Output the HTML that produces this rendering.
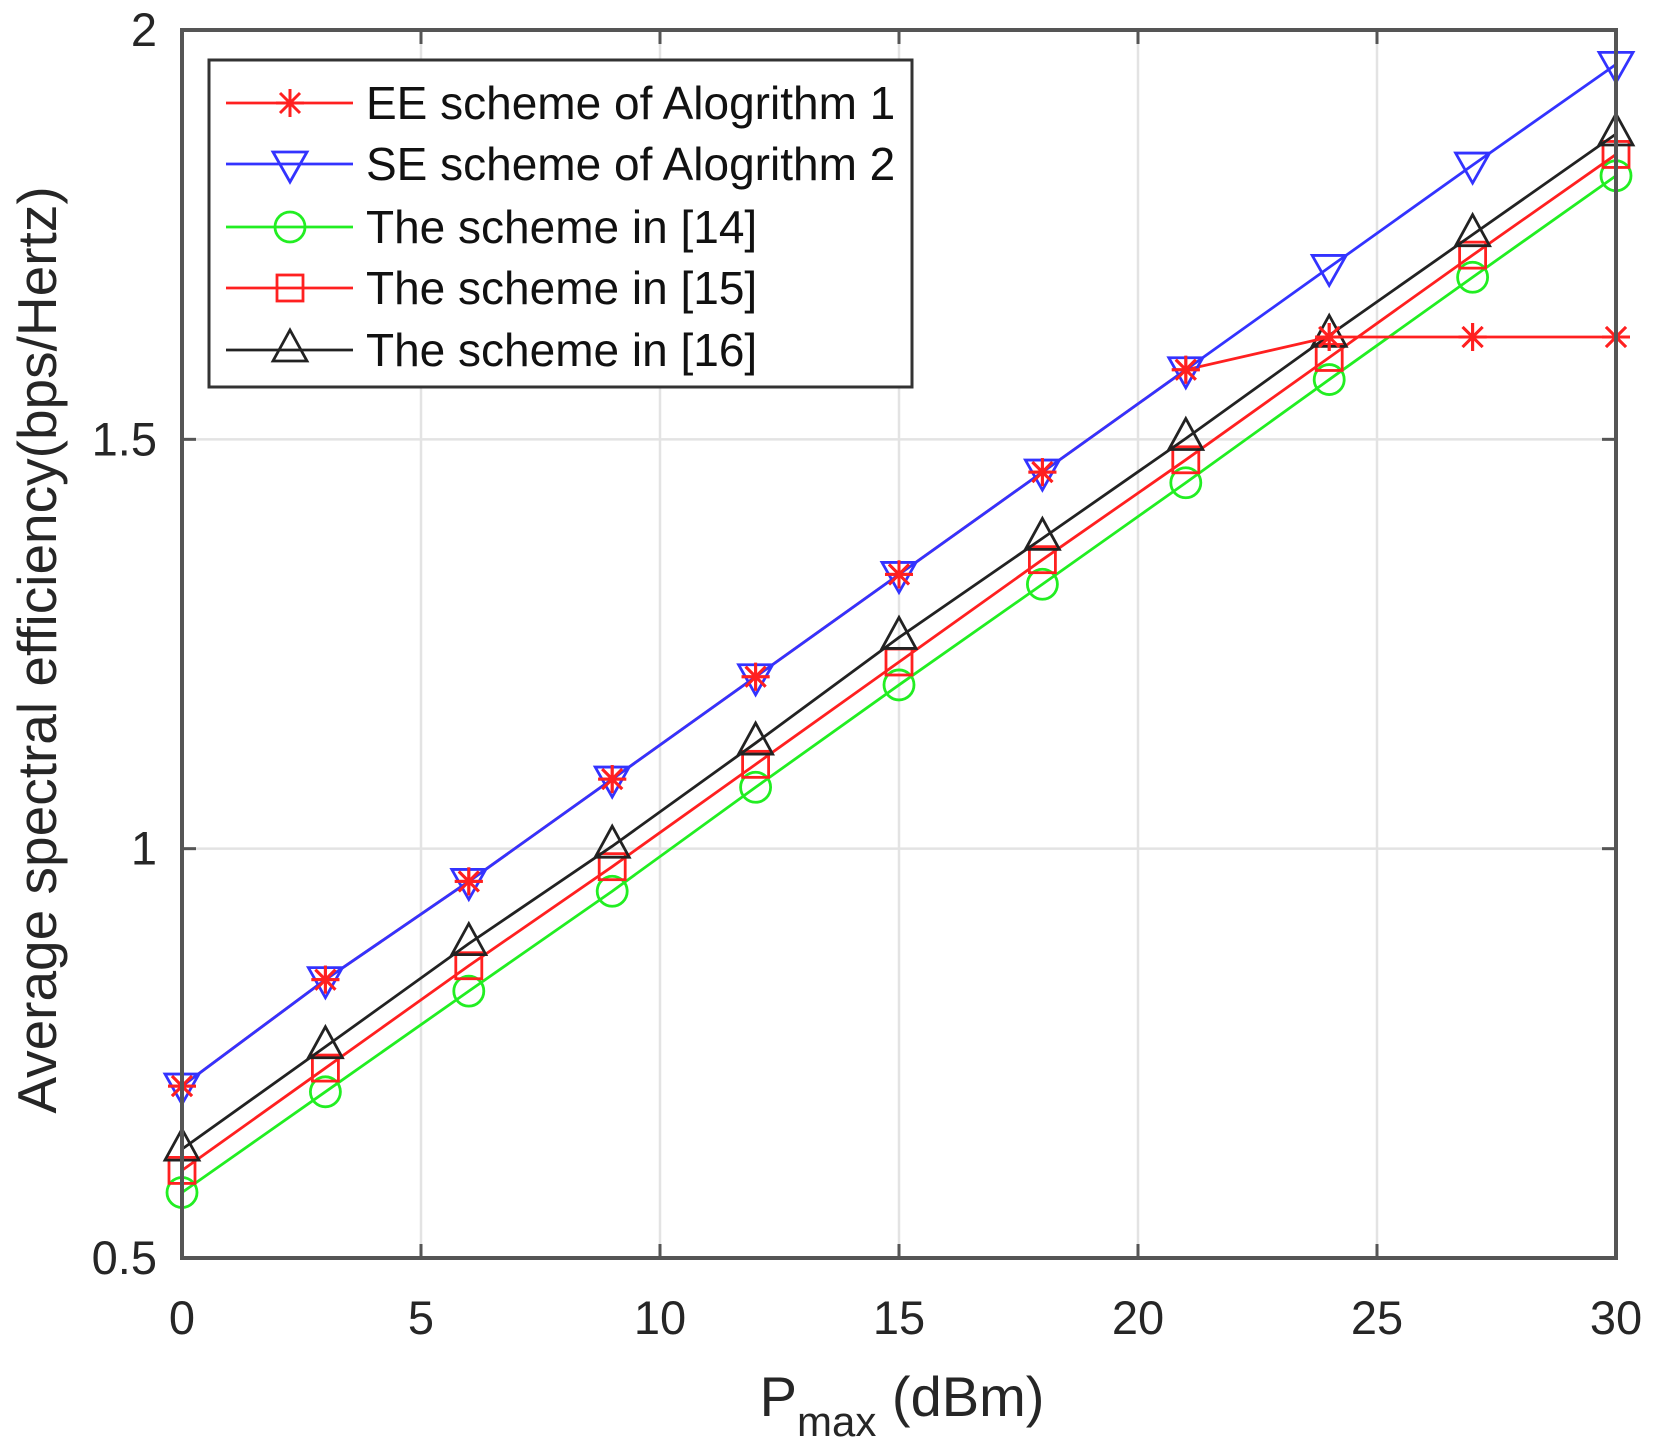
<!DOCTYPE html>
<html><head><meta charset="utf-8"><style>
body{margin:0;background:#fff}
svg{display:block;font-family:"Liberation Sans",sans-serif}
</style></head><body>
<svg id="chart" width="1654" height="1454" viewBox="0 0 1654 1454">
<g id="grid"></g>
<g id="series"></g>
<g id="axes"></g>
<text x="56" y="650" transform="rotate(-90 56 650)" text-anchor="middle" font-size="55" fill="#262626">Average spectral efficiency(bps/Hertz)</text>
<text x="902" y="1416" text-anchor="middle" font-size="56" fill="#262626">P<tspan font-size="42" dy="20">max</tspan><tspan dy="-20"> (dBm)</tspan></text>
<g id="legend"></g>
</svg>
<script>
const xs=[0,3,6,9,12,15,18,21,24,27,30];
const eeVals=[0.71,0.84,0.96,1.085,1.21,1.335,1.46,1.585,1.625,1.625,1.625];
const seVals=[0.71,0.84,0.96,1.085,1.21,1.335,1.46,1.585,1.71,1.835,1.958];
const s14Vals=[0.58,0.703,0.826,0.948,1.075,1.2,1.323,1.447,1.573,1.698,1.822];
const s15Vals=[0.607,0.732,0.857,0.978,1.103,1.228,1.353,1.475,1.6,1.725,1.848];
const s16Vals=[0.633,0.758,0.884,1.003,1.129,1.258,1.379,1.501,1.627,1.75,1.873];
const xTicks=[0,5,10,15,20,25,30];
const yTicks=[0.5,1,1.5,2];
const yTickLabels=["0.5","1","1.5","2"];
const legendLabels=["EE scheme of Alogrithm 1","SE scheme of Alogrithm 2","The scheme in [14]","The scheme in [15]","The scheme in [16]"];
const L=182,R=1616,T=30,B=1258;
const X=v=>L+(v-0)/30*(R-L);
const Y=v=>B-(v-0.5)/1.5*(B-T);
const NS="http://www.w3.org/2000/svg";
function mk(tag,attrs,parent){const e=document.createElementNS(NS,tag);for(const k in attrs)e.setAttribute(k,attrs[k]);parent.appendChild(e);return e;}
const grid=document.getElementById('grid'),axes=document.getElementById('axes'),ser=document.getElementById('series'),leg=document.getElementById('legend');
xTicks.forEach(t=>{
 const g=mk('line',{x1:X(t),x2:X(t),y1:T,y2:B,stroke:'#e3e3e3','stroke-width':2.5},grid);
 
 
 mk('line',{x1:X(t),x2:X(t),y1:B,y2:B-14,stroke:'#555','stroke-width':3},axes);
 mk('line',{x1:X(t),x2:X(t),y1:T,y2:T+14,stroke:'#555','stroke-width':3},axes);
 const tx=mk('text',{x:X(t),y:1334,'text-anchor':'middle','font-size':47,fill:'#262626'},axes);tx.textContent=t;
 
 
});
yTicks.forEach((t,i)=>{
 const g=mk('line',{x1:L,x2:R,y1:Y(t),y2:Y(t),stroke:'#e3e3e3','stroke-width':2.5},grid);
 
 
 mk('line',{x1:L,x2:L+14,y1:Y(t),y2:Y(t),stroke:'#555','stroke-width':3},axes);
 mk('line',{x1:R,x2:R-14,y1:Y(t),y2:Y(t),stroke:'#555','stroke-width':3},axes);
 const tx=mk('text',{x:157,y:Y(t)+16,'text-anchor':'end','font-size':47,fill:'#262626'},axes);tx.textContent=yTickLabels[i];
 
 
});
const fr=mk('rect',{x:L,y:T,width:R-L,height:B-T,fill:'none',stroke:'#555','stroke-width':4},axes);


function marker(type,x,y,color,p){
 const s=14;let e;
 if(type==='star'){e=mk('path',{d:`M${x-s} ${y}H${x+s}M${x} ${y-s}V${y+s}M${x-10} ${y-10}L${x+10} ${y+10}M${x-10} ${y+10}L${x+10} ${y-10}`,stroke:color,'stroke-width':3,fill:'none'},p);}
 else if(type==='tdown'){e=mk('path',{d:`M${x-17} ${y-12}H${x+17}L${x} ${y+18}Z`,stroke:color,'stroke-width':2.8,fill:'none'},p);}
 else if(type==='circle'){e=mk('circle',{cx:x,cy:y,r:15,stroke:color,'stroke-width':2.8,fill:'none'},p);}
 else if(type==='square'){e=mk('rect',{x:x-13,y:y-13,width:26,height:26,stroke:color,'stroke-width':2.8,fill:'none'},p);}
 else {e=mk('path',{d:`M${x} ${y-20}L${x+17} ${y+11}H${x-17}Z`,stroke:color,'stroke-width':2.8,fill:'none'},p);}
 return e;
}
const seriesDefs=[
 {vals:s14Vals,color:'#22ee22',m:'circle',name:'series-scheme-14'},
 {vals:s15Vals,color:'#ff2020',m:'square',name:'series-scheme-15'},
 {vals:s16Vals,color:'#222',m:'tri',name:'series-scheme-16'},
 {vals:eeVals,color:'#ff2020',m:'star',name:'series-ee-alg1'},
 {vals:seVals,color:'#3333ff',m:'tdown',name:'series-se-alg2'}];
seriesDefs.forEach(d=>{
 const g=mk('g',{},ser);
 
 
 mk('polyline',{points:xs.map((x,i)=>X(x)+','+Y(d.vals[i])).join(' '),fill:'none',stroke:d.color,'stroke-width':2.8},g);
 xs.forEach((x,i)=>{const m=marker(d.m,X(x),Y(d.vals[i]),d.color,g);
  
  });
});
// redraw EE star markers on top
xs.forEach((x,i)=>{const m=marker('star',X(x),Y(eeVals[i]),'#ff2020',ser);
 
 });
const lb=mk('rect',{x:209,y:60,width:703,height:327,fill:'#fff',stroke:'#333','stroke-width':3},leg);


const legDefs=[['#ff2020','star'],['#3333ff','tdown'],['#22ee22','circle'],['#ff2020','square'],['#222','tri']];
const legY=[103,164,227,288,350];
legendLabels.forEach((lab,i)=>{
 const g=mk('g',{},leg);
 
 
 const y=legY[i];
 mk('line',{x1:226,x2:353,y1:y,y2:y,stroke:legDefs[i][0],'stroke-width':2.8},g);
 marker(legDefs[i][1],290,y,legDefs[i][0],g);
 const t=mk('text',{x:366,y:y+16,'font-size':46,fill:'#111'},g);t.textContent=lab;
});
</script>
</body></html>
